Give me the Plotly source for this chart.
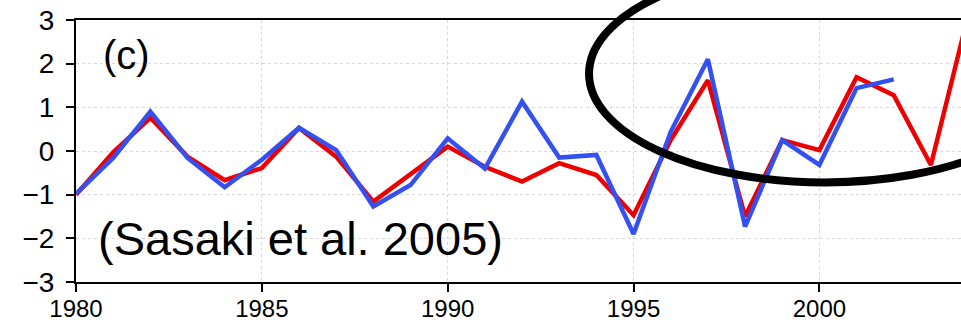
import plotly.graph_objects as go

# Annual index, 1980-2004
years_red = list(range(1980, 2005))
red_vals = [-1.0, -0.03, 0.76, -0.13, -0.67, -0.39, 0.53, -0.13, -1.16, -0.52,
            0.10, -0.36, -0.70, -0.28, -0.55, -1.47, 0.25, 1.62, -1.50, 0.25,
            0.02, 1.69, 1.28, -0.32, 3.10]

# Second series, 1980-2002
years_blue = list(range(1980, 2003))
blue_vals = [-0.98, -0.16, 0.90, -0.16, -0.83, -0.20, 0.53, 0.02, -1.27, -0.78,
             0.29, -0.40, 1.13, -0.15, -0.09, -1.90, 0.44, 2.10, -1.73, 0.25,
             -0.32, 1.44, 1.64]

x_ticks = [1980, 1985, 1990, 1995, 2000]
y_ticks = [-3, -2, -1, 0, 1, 2, 3]
y_tick_text = ["\u22123", "\u22122", "\u22121", "0", "1", "2", "3"]

fig = go.Figure()
fig.add_trace(go.Scatter(x=years_red, y=red_vals, mode="lines",
                         line=dict(color="#ee0000", width=4.5), showlegend=False))
fig.add_trace(go.Scatter(x=years_blue, y=blue_vals, mode="lines",
                         line=dict(color="#3350f0", width=4.5), showlegend=False))

fig.update_layout(
    width=961, height=322,
    margin=dict(l=76, r=0, t=20, b=40, autoexpand=False),
    paper_bgcolor="white", plot_bgcolor="white",
    xaxis=dict(range=[1980, 2003.81], tickvals=x_ticks, automargin=False,
               showline=True, linecolor="black", linewidth=2, mirror=True,
               ticks="outside", ticklen=8, tickwidth=2, tickcolor="black",
               showgrid=True, gridcolor="#d8d8d8", griddash="dot", gridwidth=1,
               zeroline=False, ticklabelstandoff=-4,
               tickfont=dict(family="Liberation Sans, Arial, sans-serif",
                             size=24, color="black")),
    yaxis=dict(range=[-3, 3], tickvals=y_ticks, ticktext=y_tick_text,
               automargin=False,
               showline=True, linecolor="black", linewidth=2, mirror=False,
               ticks="outside", ticklen=8, tickwidth=2, tickcolor="black",
               showgrid=True, gridcolor="#d8d8d8", griddash="dot", gridwidth=1,
               zeroline=False, ticklabelstandoff=6,
               tickfont=dict(family="Liberation Sans, Arial, sans-serif",
                             size=28, color="black")),
    font=dict(family="Liberation Sans, Arial, sans-serif", color="black"),
)

# Panel label and citation
fig.add_annotation(x=1981.37, y=2.2, xref="x", yref="y", text="(c)",
                   showarrow=False, font=dict(size=40, color="black"),
                   xanchor="center", yanchor="middle")
fig.add_annotation(x=1986.05, y=-2.0, xref="x", yref="y",
                   text="(Sasaki et al. 2005)", showarrow=False,
                   font=dict(size=47, color="black"),
                   xanchor="center", yanchor="middle")

# Highlight ellipse around the late-1990s to early-2000s period
fig.add_shape(type="circle", xref="paper", yref="paper",
              x0=0.5797, x1=1.1130, y0=0.3800, y1=1.2099,
              line=dict(color="black", width=8), fillcolor="rgba(0,0,0,0)",
              layer="above")

fig.write_html("out.html")
